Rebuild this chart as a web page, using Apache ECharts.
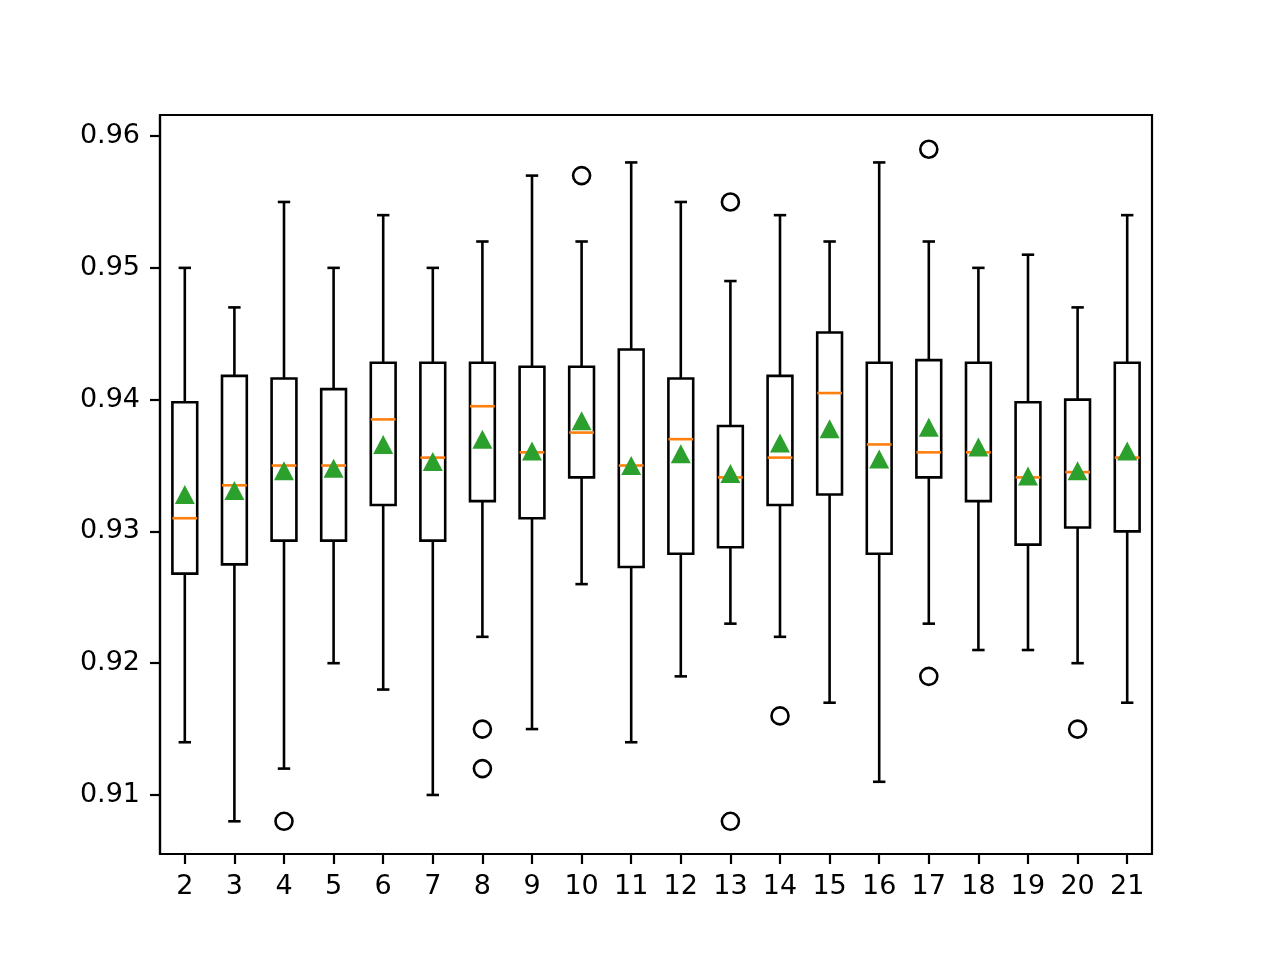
<!DOCTYPE html>
<html>
<head>
<meta charset="utf-8">
<script src="https://cdn.jsdelivr.net/npm/echarts@6/dist/echarts.min.js"></script>
<style>
  html, body { margin: 0; padding: 0; background: #fff; }
  #chart { width: 1280px; height: 960px; }
</style>
</head>
<body>
<div id="chart"></div>
<script>
// box stats per category
var categories = ['2','3','4','5','6','7','8','9','10','11','12','13','14','15','16','17','18','19','20','21'];
var whiskerLow  = [0.914, 0.908, 0.912, 0.920, 0.918, 0.910, 0.922, 0.915, 0.926, 0.914, 0.919, 0.923, 0.922, 0.917, 0.911, 0.923, 0.921, 0.921, 0.920, 0.917];
var q1          = [0.9268, 0.9275, 0.9293, 0.9293, 0.9320, 0.9293, 0.9323, 0.9310, 0.9341, 0.9273, 0.9283, 0.9288, 0.9320, 0.9328, 0.9283, 0.9341, 0.9323, 0.9290, 0.9303, 0.9300];
var medians     = [0.9310, 0.9335, 0.9350, 0.9350, 0.9385, 0.9356, 0.9395, 0.9360, 0.9375, 0.9350, 0.9370, 0.9341, 0.9356, 0.9405, 0.9366, 0.9360, 0.9360, 0.9341, 0.9345, 0.9356];
var q3          = [0.9398, 0.9418, 0.9416, 0.9408, 0.9428, 0.9428, 0.9428, 0.9425, 0.9425, 0.9438, 0.9416, 0.9380, 0.9418, 0.9451, 0.9428, 0.9430, 0.9428, 0.9398, 0.9400, 0.9428];
var whiskerHigh = [0.950, 0.947, 0.955, 0.950, 0.954, 0.950, 0.952, 0.957, 0.952, 0.958, 0.955, 0.949, 0.954, 0.952, 0.958, 0.952, 0.950, 0.951, 0.947, 0.954];
var means       = [0.9328, 0.9331, 0.9346, 0.9348, 0.9366, 0.9353, 0.9370, 0.9361, 0.9384, 0.9350, 0.9359, 0.9344, 0.9367, 0.9378, 0.9355, 0.9379, 0.9364, 0.9342, 0.9346, 0.9361];
// outliers: [category label, value]
var outliers = [['4', 0.908], ['8', 0.915], ['8', 0.912], ['10', 0.957], ['13', 0.955], ['13', 0.908], ['14', 0.916], ['17', 0.959], ['17', 0.919], ['20', 0.915]];
var yTicks = [0.91, 0.92, 0.93, 0.94, 0.95, 0.96];

var boxData = categories.map(function (c, i) {
    return [i, whiskerLow[i], q1[i], medians[i], q3[i], whiskerHigh[i]];
});
var meanData = categories.map(function (c, i) { return [i, means[i]]; });
var outlierData = outliers.map(function (o) { return [categories.indexOf(o[0]), o[1]]; });

var chart = echarts.init(document.getElementById('chart'));
var font = 'DejaVu Sans';
var lineW = 2.6;

function renderBox(params, api) {
    var i = api.value(0);
    var band = api.size([1, 0])[0];
    var half = band * 0.25;
    var cap = band * 0.125;
    var lo = api.coord([i, api.value(1)]);
    var b1 = api.coord([i, api.value(2)]);
    var md = api.coord([i, api.value(3)]);
    var b3 = api.coord([i, api.value(4)]);
    var hi = api.coord([i, api.value(5)]);
    var x = lo[0];
    var blk = { stroke: '#000', lineWidth: lineW, fill: null };
    return {
        type: 'group',
        children: [
            { type: 'line', shape: { x1: x, y1: b3[1], x2: x, y2: hi[1] }, style: blk },
            { type: 'line', shape: { x1: x, y1: b1[1], x2: x, y2: lo[1] }, style: blk },
            { type: 'line', shape: { x1: x - cap, y1: hi[1], x2: x + cap, y2: hi[1] }, style: blk },
            { type: 'line', shape: { x1: x - cap, y1: lo[1], x2: x + cap, y2: lo[1] }, style: blk },
            { type: 'rect', shape: { x: x - half, y: b3[1], width: half * 2, height: b1[1] - b3[1] },
              style: { stroke: '#000', lineWidth: lineW, fill: 'rgba(0,0,0,0)' } },
            { type: 'line', shape: { x1: x - half, y1: md[1], x2: x + half, y2: md[1] },
              style: { stroke: '#ff7f0e', lineWidth: lineW } }
        ]
    };
}

chart.setOption({
    animation: false,
    backgroundColor: '#fff',
    grid: {
        left: 160, right: 128, top: 115, bottom: 106,
        show: true, borderColor: '#000', borderWidth: 2.2, backgroundColor: 'transparent'
    },
    xAxis: {
        type: 'category',
        data: categories,
        boundaryGap: true,
        axisLine: { show: true, lineStyle: { color: '#000', width: 2.2 } },
        axisTick: { show: true, alignWithLabel: true, length: 10, lineStyle: { color: '#000', width: 2.2 } },
        axisLabel: { color: '#000', fontFamily: font, fontSize: 27, margin: 19, interval: 0 },
        splitLine: { show: false }
    },
    yAxis: {
        type: 'value',
        min: 0.90552,
        max: 0.9616,
        axisLine: { show: true, lineStyle: { color: '#000', width: 2.2 } },
        axisTick: { show: true, length: 10, customValues: yTicks, lineStyle: { color: '#000', width: 2.2 } },
        axisLabel: {
            color: '#000', fontFamily: font, fontSize: 27, margin: 20,
            customValues: yTicks,
            formatter: function (v) { return v.toFixed(2); }
        },
        splitLine: { show: false }
    },
    series: [
        {
            type: 'custom',
            renderItem: renderBox,
            encode: { x: 0, y: [1, 2, 3, 4, 5] },
            data: boxData,
            z: 2
        },
        {
            type: 'scatter',
            data: outlierData,
            symbol: 'circle',
            symbolSize: 17,
            itemStyle: { color: 'rgba(0,0,0,0)', borderColor: '#000', borderWidth: 2.6, opacity: 1 },
            z: 3
        },
        {
            type: 'scatter',
            data: meanData,
            symbol: 'triangle',
            symbolSize: [20, 19],
            itemStyle: { color: '#2ca02c', opacity: 1 },
            z: 4
        }
    ]
});
</script>
</body>
</html>
